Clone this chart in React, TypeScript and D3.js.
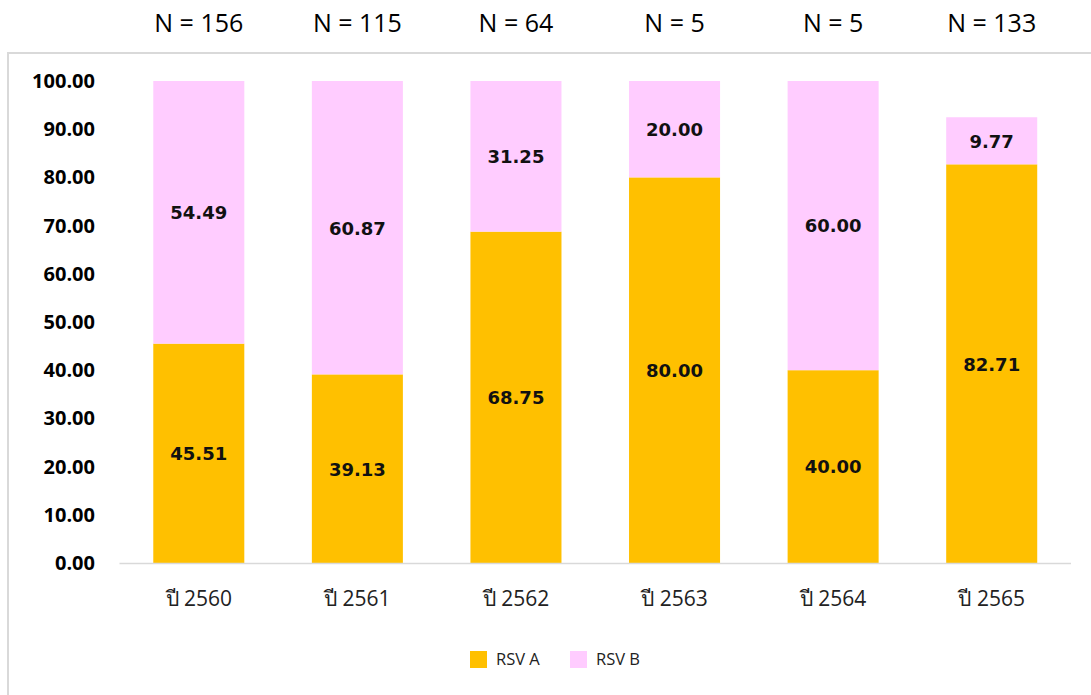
import React from "react";
import * as d3 from "d3";

const categories = ["ปี 2560", "ปี 2561", "ปี 2562", "ปี 2563", "ปี 2564", "ปี 2565"];
const sampleSizes = ["N = 156", "N = 115", "N = 64", "N = 5", "N = 5", "N = 133"];
const rsvA = [45.51, 39.13, 68.75, 80.0, 40.0, 82.71];
const rsvB = [54.49, 60.87, 31.25, 20.0, 60.0, 9.77];
const yTicks = [0, 10, 20, 30, 40, 50, 60, 70, 80, 90, 100];
const seriesNames = ["RSV A", "RSV B"];
const seriesColors = ["#FFC000", "#FFCCFF"];

const W = 1091;
const H = 695;

export default function App() {
  const x = d3
    .scaleBand<string>()
    .domain(categories)
    .range([119.5, 1071])
    .paddingInner(0.426)
    .paddingOuter(0.213);
  const y = d3.scaleLinear().domain([0, 100]).range([563, 81]);
  const bw = x.bandwidth();

  const stackData = categories.map((c, i) => ({ cat: c, a: rsvA[i], b: rsvB[i] }));
  const stack = d3.stack<any>().keys(["a", "b"])(stackData);

  const valueFont = "'DejaVu Sans', Verdana, sans-serif";
  const labelFont = "'Open Sans', 'Noto Sans', sans-serif";

  return (
    <svg
      width={W}
      height={H}
      style={{ position: "absolute", left: 0, top: 0, display: "block", background: "#fff" }}
    >
      <rect x={8} y={53} width={W + 10} height={H + 10} fill="#fff" stroke="#d9d9d9" strokeWidth={2} />

      {sampleSizes.map((n, i) => (
        <text
          key={n + i}
          x={(x(categories[i]) as number) + bw / 2}
          y={32}
          textAnchor="middle"
          fontFamily={labelFont}
          fontSize={25}
          fill="#000"
        >
          {n}
        </text>
      ))}

      {yTicks.map((t) => (
        <text
          key={t}
          x={95}
          y={y(t)}
          dy="0.35em"
          textAnchor="end"
          fontFamily={labelFont}
          fontWeight="bold"
          fontSize={20}
          fill="#000"
        >
          {t.toFixed(2)}
        </text>
      ))}

      {stack.map((s, si) => (
        <g key={si} fill={seriesColors[si]}>
          {s.map((d, i) => (
            <rect
              key={i}
              x={x(d.data.cat)}
              y={y(d[1])}
              width={bw}
              height={y(d[0]) - y(d[1])}
            />
          ))}
        </g>
      ))}

      <line x1={119.5} x2={1071} y1={563.5} y2={563.5} stroke="#d9d9d9" strokeWidth={1.5} />

      {stack.map((s, si) => (
        <g key={"l" + si}>
          {s.map((d, i) => (
            <text
              key={i}
              x={(x(d.data.cat) as number) + bw / 2}
              y={(y(d[0]) + y(d[1])) / 2}
              dy="0.38em"
              textAnchor="middle"
              fontFamily={valueFont}
              fontWeight="bold"
              fontSize={18}
              fill="#111"
            >
              {(si === 0 ? rsvA[i] : rsvB[i]).toFixed(2)}
            </text>
          ))}
        </g>
      ))}

      {categories.map((c) => (
        <text
          key={c}
          x={(x(c) as number) + bw / 2}
          y={606}
          textAnchor="middle"
          fontFamily={labelFont}
          fontSize={21}
          fill="#222"
        >
          {c}
        </text>
      ))}

      {seriesNames.map((name, i) => (
        <g key={name} transform={`translate(${470 + i * 100},651)`}>
          <rect width={17} height={17} fill={seriesColors[i]} />
          <text x={26} y={14} fontFamily={labelFont} fontSize={16.5} fill="#222">
            {name}
          </text>
        </g>
      ))}
    </svg>
  );
}
